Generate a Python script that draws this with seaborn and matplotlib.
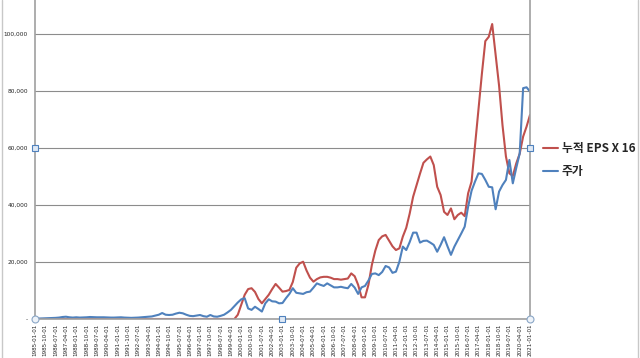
import numpy as np
import pandas as pd
import matplotlib
matplotlib.use("Agg")
import matplotlib.pyplot as plt
from matplotlib.lines import Line2D
import seaborn as sns

# Quarterly dates 1985-01-01 .. 2021-01-01
dates = pd.date_range("1985-01-01", "2021-01-01", freq="QS").strftime("%Y-%m-%d").tolist()

series_names = ["누적 EPS X 16", "주가"]

eps_x16 = [
    0, 0, 0, 0, 0, 0, 0, 0, 0, 0, 0, 0, 0, 0, 0, 0, 0, 0, 0, 0,
    0, 0, 0, 0, 0, 0, 0, 0, 0, 0, 0, 0, 0, 0, 0, 0, 0, 0, 0, 0,
    0, 0, 0, 0, 0, 0, 0, 0, 0, 0, 0, 0, 0, 0, 0, 0, 0, 0, 0, 1500,
    5000, 8500, 10500, 10800, 9500, 7000, 5500, 7000, 8500, 10500,
    12300, 11000, 9600, 9800, 10200, 13000, 18000, 19500, 20100, 17000,
    14500, 13100, 14000, 14600, 14800, 14800, 14500, 14000, 14000, 13800,
    14000, 14200, 16000, 15000, 12000, 7600, 7600, 12000, 19000, 24000,
    27700, 29000, 29500, 27500, 25500, 24200, 24800, 28900, 32000, 37000,
    42900, 47000, 51000, 54800, 56000, 57000, 54000, 46400, 43500, 37600,
    36500, 38800, 35000, 36500, 37300, 36100, 44100, 48200, 60800, 73400,
    86000, 97500, 99000, 103500, 92700, 81900, 68000, 57000, 51100, 50200,
    54600, 58000, 64000, 67500, 71600,
]

stock_price = [
    100, 150, 200, 250, 300, 350, 400, 500, 700, 800,
    600, 500, 600, 500, 550, 600, 700, 650, 600, 600,
    600, 550, 500, 500, 550, 600, 500, 450, 400, 450,
    500, 600, 700, 800, 900, 1200, 1500, 2100, 1500, 1400,
    1500, 1900, 2200, 2000, 1500, 1100, 1000, 1200, 1400, 1000,
    800, 1400, 900, 800, 1100, 1500, 2300, 3200, 4500, 5800,
    6900, 7300, 3700, 3200, 4300, 3500, 2600, 5500, 6900, 6200,
    6100, 5500, 5600, 7300, 8800, 10800, 9200, 9000, 8800, 9400,
    9600, 11000, 12500, 12000, 11600, 12500, 11800, 11100, 11100, 11300,
    11000, 10800, 12300, 11000, 8800, 11100, 11600, 13500, 15800, 16000,
    15400, 16500, 18600, 18100, 16200, 16600, 20100, 25400, 24200, 27000,
    30300, 30300, 26800, 27400, 27500, 26800, 26000, 23600, 26000, 28700,
    25500, 22500, 25400, 27700, 30000, 32400, 39400, 45000, 48200, 51100,
    50900, 48800, 46400, 46200, 38500, 44700, 47000, 48800, 55800, 47600,
    53000, 58100, 81000, 81300, 79800,
]

y_ticks = [0, 20000, 40000, 60000, 80000, 100000]
y_tick_labels = ["-", "20,000", "40,000", "60,000", "80,000", "100,000"]

colors = ["#C0504D", "#4F81BD"]

n = len(dates)
df = pd.DataFrame({
    "idx": list(range(n)) * 2,
    "value": eps_x16 + stock_price,
    "series": [series_names[0]] * n + [series_names[1]] * n,
})

sns.set_style("white")
plt.rcParams["font.family"] = ["Noto Sans CJK KR", "DejaVu Sans"]

W, H = 640, 358
fig = plt.figure(figsize=(W / 100, H / 100), dpi=100)
ax = fig.add_axes([35 / W, 1 - 319 / H, (530 - 35) / W, 319 / H])

sns.lineplot(data=df, x="idx", y="value", hue="series", palette=colors,
             linewidth=1.5, ax=ax, legend=False)

ax.set_xlim(0, n - 1)
ax.set_ylim(0, 319 / 2.85 * 1000)
ax.set_yticks(y_ticks)
ax.set_yticklabels(y_tick_labels, fontsize=4.2, family=["DejaVu Sans"])
ax.set_xticks(list(range(0, n, 3)))
ax.set_xticklabels(dates[::3], rotation=90, fontsize=4.1, family=["DejaVu Sans"])
ax.set_xlabel("")
ax.set_ylabel("")
ax.grid(axis="y", color="#8c8c8c", linewidth=0.8)
ax.grid(axis="x", visible=False)
for s in ["left", "bottom", "right"]:
    ax.spines[s].set_color("#a0a0a0")
    ax.spines[s].set_linewidth(1.2)
ax.spines["top"].set_visible(False)
ax.tick_params(axis="x", length=2, color="#a0a0a0", pad=1.5)
ax.tick_params(axis="y", length=0, pad=5)

# Excel-like selection handles
handle_kw = dict(transform=ax.transAxes, clip_on=False, zorder=5)
ax.plot([0, 1], [(319 - 148) / 319] * 2, ls="none", marker="s", ms=4,
        mfc="#dfe9f5", mec="#4F81BD", mew=0.8, **handle_kw)
ax.plot([(282 - 35) / 495], [0], ls="none", marker="s", ms=4,
        mfc="#dfe9f5", mec="#4F81BD", mew=0.8, **handle_kw)
ax.plot([0, 1], [0, 0], ls="none", marker="o", ms=5,
        mfc="#eef3f9", mec="#8aa6c6", mew=0.8, **handle_kw)

# legend
handles = [Line2D([], [], color=c, lw=1.5) for c in colors]
fig.legend(handles, series_names, loc="center left",
           bbox_to_anchor=(537 / W, 1 - 160 / H), frameon=False,
           prop={"size": 8.5, "weight": "bold"}, handlelength=1.3,
           handletextpad=0.3, labelspacing=0.9, borderpad=0)

# chart-area border
fig.add_artist(Line2D([1.5 / W, 1.5 / W], [0, 1], color="#c8c8c8", lw=1))
fig.add_artist(Line2D([637.5 / W, 637.5 / W], [0, 1], color="#c8c8c8", lw=1))

fig.savefig("out.png", dpi=100)
